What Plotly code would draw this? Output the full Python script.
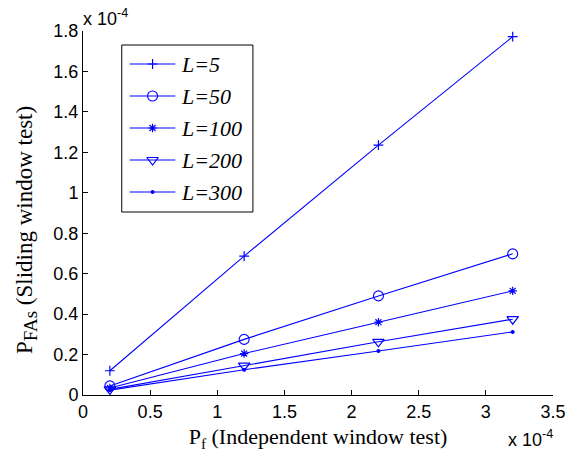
import plotly.graph_objects as go

# False-alarm probabilities: independent window test (x) vs sliding window test (y)
pf_independent = [0.2e-4, 1.2e-4, 2.2e-4, 3.2e-4]

window_lengths = ["L=5", "L=50", "L=100", "L=200", "L=300"]
pfa_L5 = [0.120e-4, 0.687e-4, 1.236e-4, 1.772e-4]
pfa_L50 = [0.045e-4, 0.275e-4, 0.490e-4, 0.698e-4]
pfa_L100 = [0.035e-4, 0.205e-4, 0.360e-4, 0.515e-4]
pfa_L200 = [0.028e-4, 0.145e-4, 0.263e-4, 0.375e-4]
pfa_L300 = [0.024e-4, 0.125e-4, 0.218e-4, 0.312e-4]

x_ticks = [0, 0.5e-4, 1.0e-4, 1.5e-4, 2.0e-4, 2.5e-4, 3.0e-4, 3.5e-4]
x_tick_text = ["0", "0.5", "1", "1.5", "2", "2.5", "3", "3.5"]
y_ticks = [0, 0.2e-4, 0.4e-4, 0.6e-4, 0.8e-4, 1.0e-4, 1.2e-4, 1.4e-4, 1.6e-4, 1.8e-4]
y_tick_text = ["0", "0.2", "0.4", "0.6", "0.8", "1", "1.2", "1.4", "1.6", "1.8"]

BLUE = "#0000ff"
series = [pfa_L5, pfa_L50, pfa_L100, pfa_L200, pfa_L300]
markers = [
    dict(symbol="cross-thin-open", size=7, line=dict(width=1.2, color=BLUE)),
    dict(symbol="circle-open", size=10, line=dict(width=1.1, color=BLUE)),
    dict(symbol="asterisk-open", size=7, line=dict(width=1.2, color=BLUE)),
    dict(symbol="triangle-down-open", size=10, line=dict(width=1.2, color=BLUE)),
    dict(symbol="circle", size=4, line=dict(width=0)),
]

fig = go.Figure()
for name, ys, mk in zip(window_lengths, series, markers):
    fig.add_trace(go.Scatter(
        x=pf_independent, y=ys, name=name, mode="lines+markers",
        line=dict(color=BLUE, width=1.1),
        marker=dict(color=BLUE, **mk),
        showlegend=False,
    ))

# Legend drawn on an overlay axis measured in screen pixels (plot area spans 83..556 x 31..395)
LEG_X0, LEG_X1, LEG_Y0, LEG_Y1 = 122, 254, 45, 212
leg_rows = [64, 96, 128, 160, 192]
for name, mk, row in zip(window_lengths, markers, leg_rows):
    fig.add_trace(go.Scatter(
        x=[130, 176], y=[row, row], xaxis="x2", yaxis="y2", mode="lines",
        line=dict(color=BLUE, width=1.1), showlegend=False, hoverinfo="skip",
    ))
    fig.add_trace(go.Scatter(
        x=[153], y=[row], xaxis="x2", yaxis="y2", mode="markers",
        marker=dict(color=BLUE, **mk), showlegend=False, hoverinfo="skip",
    ))
    fig.add_annotation(
        text=name, xref="x2", yref="y2", x=180, y=row, xanchor="left", yanchor="middle",
        showarrow=False,
        font=dict(family="Liberation Serif", size=22, color="black", style="italic"),
    )
fig.add_shape(type="rect", xref="x2", yref="y2", x0=LEG_X0, x1=LEG_X1, y0=LEG_Y0, y1=LEG_Y1,
              line=dict(color="black", width=1), fillcolor="rgba(0,0,0,0)", layer="below")

axis_common = dict(
    showline=True, linecolor="black", linewidth=1,
    ticks="inside", ticklen=5, tickcolor="black", tickwidth=1,
    showgrid=False, zeroline=False,
    tickfont=dict(family="Liberation Sans", size=18, color="black"),
    title_font=dict(family="Liberation Serif", size=22, color="black"),
)

fig.update_layout(
    width=578, height=460,
    margin=dict(l=83, r=22, t=31, b=65),
    plot_bgcolor="white", paper_bgcolor="white",
    xaxis=dict(range=[0, 3.5e-4], tickvals=x_ticks, ticktext=x_tick_text,
               title=dict(text="P<sub>f</sub> (Independent window test)", standoff=8),
               **axis_common),
    yaxis=dict(range=[0, 1.8e-4], tickvals=y_ticks, ticktext=y_tick_text,
               **axis_common),
    xaxis2=dict(overlaying="x", range=[83, 556], visible=False, fixedrange=True),
    yaxis2=dict(overlaying="y", range=[395, 31], visible=False, fixedrange=True),
    showlegend=False,
)

# Y-axis title
fig.add_annotation(
    text="P<sub><span style='font-size:19px'>FAs</span></sub> (Sliding window test)",
    xref="x2", yref="y2", x=83, y=230, xshift=-57, xanchor="center", yanchor="middle",
    textangle=-90, showarrow=False,
    font=dict(family="Liberation Serif", size=23, color="black"),
)

# Axis multipliers
fig.add_annotation(text="x 10<sup>-4</sup>", xref="paper", yref="paper",
                   x=0, y=1, xanchor="left", yanchor="bottom", yshift=0, xshift=-2,
                   showarrow=False, font=dict(family="Liberation Sans", size=18, color="black"))
fig.add_annotation(text="x 10<sup>-4</sup>", xref="paper", yref="paper",
                   x=1, y=0, xanchor="right", yanchor="top", yshift=-30, xshift=2,
                   showarrow=False, font=dict(family="Liberation Sans", size=18, color="black"))

fig.write_html("out.html")
